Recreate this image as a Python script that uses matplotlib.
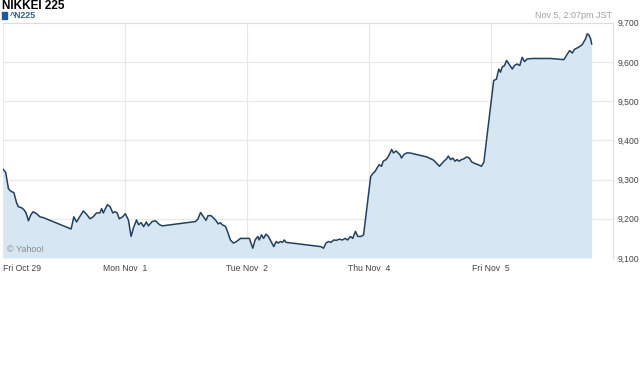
import numpy as np
import matplotlib.pyplot as plt
from matplotlib.patches import Rectangle

plt.rcParams['font.family'] = ['Liberation Sans', 'DejaVu Sans']

# trading days shown (Nov 3 is a holiday in Tokyo)
day_labels = ['Fri Oct 29', 'Mon Nov  1', 'Tue Nov  2', 'Thu Nov  4', 'Fri Nov  5']

# minutes after the 9:00 open, index level
oct29_min = [1, 8, 16, 21, 26, 32, 40, 45, 55, 62, 68, 75, 82, 89, 99, 109, 119,
             201, 209, 217, 225, 237, 245, 257, 266, 276, 286, 291, 296, 308, 316,
             324, 330, 337, 343, 353]
oct29_val = [9326, 9318, 9277, 9272, 9269, 9267, 9241, 9231, 9228, 9223, 9215, 9195,
             9210, 9218, 9213, 9205, 9203, 9174, 9205, 9192, 9203, 9220, 9213, 9200,
             9205, 9215, 9215, 9226, 9215, 9236, 9231, 9215, 9218, 9215, 9200, 9205]

nov01_min = [1, 10, 18, 25, 34, 40, 48, 55, 63, 69, 80, 90, 96, 102, 110, 208, 215,
             223, 231, 239, 245, 254, 261, 268, 275, 281, 287, 297, 304, 311, 320,
             329, 341, 353]
nov01_val = [9213, 9197, 9155, 9177, 9197, 9185, 9190, 9180, 9192, 9182, 9193, 9195,
             9190, 9185, 9182, 9193, 9199, 9216, 9206, 9196, 9208, 9208, 9202, 9196,
             9187, 9190, 9185, 9180, 9164, 9146, 9138, 9142, 9150, 9150]

nov02_min = [7, 17, 24, 32, 36, 43, 49, 56, 63, 71, 79, 86, 92, 98, 105, 110, 115,
             218, 226, 233, 240, 248, 256, 263, 273, 282, 289, 297, 305, 312, 320,
             327, 336, 344]
nov02_val = [9150, 9125, 9146, 9155, 9146, 9159, 9150, 9161, 9155, 9142, 9129, 9142,
             9138, 9142, 9140, 9146, 9140, 9129, 9125, 9138, 9142, 9140, 9146, 9145,
             9148, 9146, 9150, 9146, 9155, 9150, 9168, 9155, 9155, 9159]

nov04_min = [5, 11, 18, 24, 30, 37, 42, 50, 54, 60, 67, 72, 80, 86, 91, 96, 103, 111,
             121, 170, 190, 208, 215, 221, 229, 234, 241, 247, 254, 260, 266, 273,
             280, 288, 296, 303, 313, 322, 332, 339]
nov04_val = [9308, 9315, 9321, 9330, 9338, 9334, 9347, 9351, 9355, 9364, 9377, 9368,
             9373, 9368, 9364, 9355, 9364, 9368, 9368, 9358, 9350, 9334, 9341, 9347,
             9353, 9360, 9351, 9355, 9347, 9351, 9347, 9351, 9353, 9358, 9355, 9345,
             9341, 9338, 9334, 9345]

nov05_min = [8, 16, 23, 28, 33, 40, 46, 53, 63, 69, 77, 85, 92, 99, 107, 126, 176,
             215, 225, 232, 240, 246, 259, 269, 279, 284, 289, 294, 297]
nov05_val = [9553, 9556, 9582, 9574, 9587, 9591, 9604, 9595, 9582, 9591, 9595, 9591,
             9612, 9601, 9608, 9609, 9609, 9606, 9620, 9629, 9623, 9632, 9638, 9644,
             9659, 9672, 9669, 9659, 9646]

y_ticks = [9100, 9200, 9300, 9400, 9500, 9600, 9700]

all_min = [oct29_min, nov01_min, nov02_min, nov04_min, nov05_min]
all_val = [oct29_val, nov01_val, nov02_val, nov04_val, nov05_val]
x = np.concatenate([i + np.array(m) / 360.0 for i, m in enumerate(all_min)])
y = np.concatenate([np.array(v, dtype=float) for v in all_val])

fig = plt.figure(figsize=(6.4, 3.8), dpi=100)
ax = fig.add_axes([3 / 640, (380 - 258) / 380, 610 / 640, (258 - 22.8) / 380])

ax.fill_between(x, y, 9100, color='#d6e6f2', lw=0, zorder=2)
ax.plot(x, y, color='#22405f', lw=1.1, zorder=3)

ax.set_xlim(0, 5)
ax.set_ylim(9100, 9700)
ax.set_xticks(range(5))
ax.set_xticklabels(day_labels)
ax.get_xticklabels()[0].set_ha('left')
ax.set_yticks(y_ticks)
ax.set_yticklabels(['{:,}'.format(v) for v in y_ticks])
ax.yaxis.tick_right()
ax.tick_params(length=0, labelsize=6.2, colors='#444444')
ax.tick_params(axis='x', pad=4)
ax.tick_params(axis='y', pad=3)
ax.get_xticklabels()[0].set_x(-0.004)
ax.grid(color='#e8e8e8', lw=0.8, zorder=1)
for s in ['left', 'bottom']:
    ax.spines[s].set_visible(False)
for s in ['top', 'right']:
    ax.spines[s].set_color('#dddddd')
    ax.spines[s].set_linewidth(0.8)

ax.text(0.006, 0.025, '\u00a9 Yahoo!', transform=ax.transAxes, fontsize=6.5,
        color='#8c8c8c', zorder=4)

fig.text(2 / 640, 1 - 6 / 380, 'NIKKEI 225', fontsize=8.5, fontweight='bold',
         color='black', va='center')
fig.add_artist(Rectangle((2 / 640, 1 - 18.5 / 380), 5 / 640, 6 / 380,
                         transform=fig.transFigure, color='#1f5a96'))
fig.text(10 / 640, 1 - 16 / 380, '^N225', fontsize=6.3, fontweight='bold',
         color='#2f5f8f', va='center')
fig.text(612 / 640, 1 - 15.5 / 380, 'Nov 5, 2:07pm JST', fontsize=6.5,
         color='#a0a0a0', va='center', ha='right')

fig.savefig('out.png', dpi=100)
